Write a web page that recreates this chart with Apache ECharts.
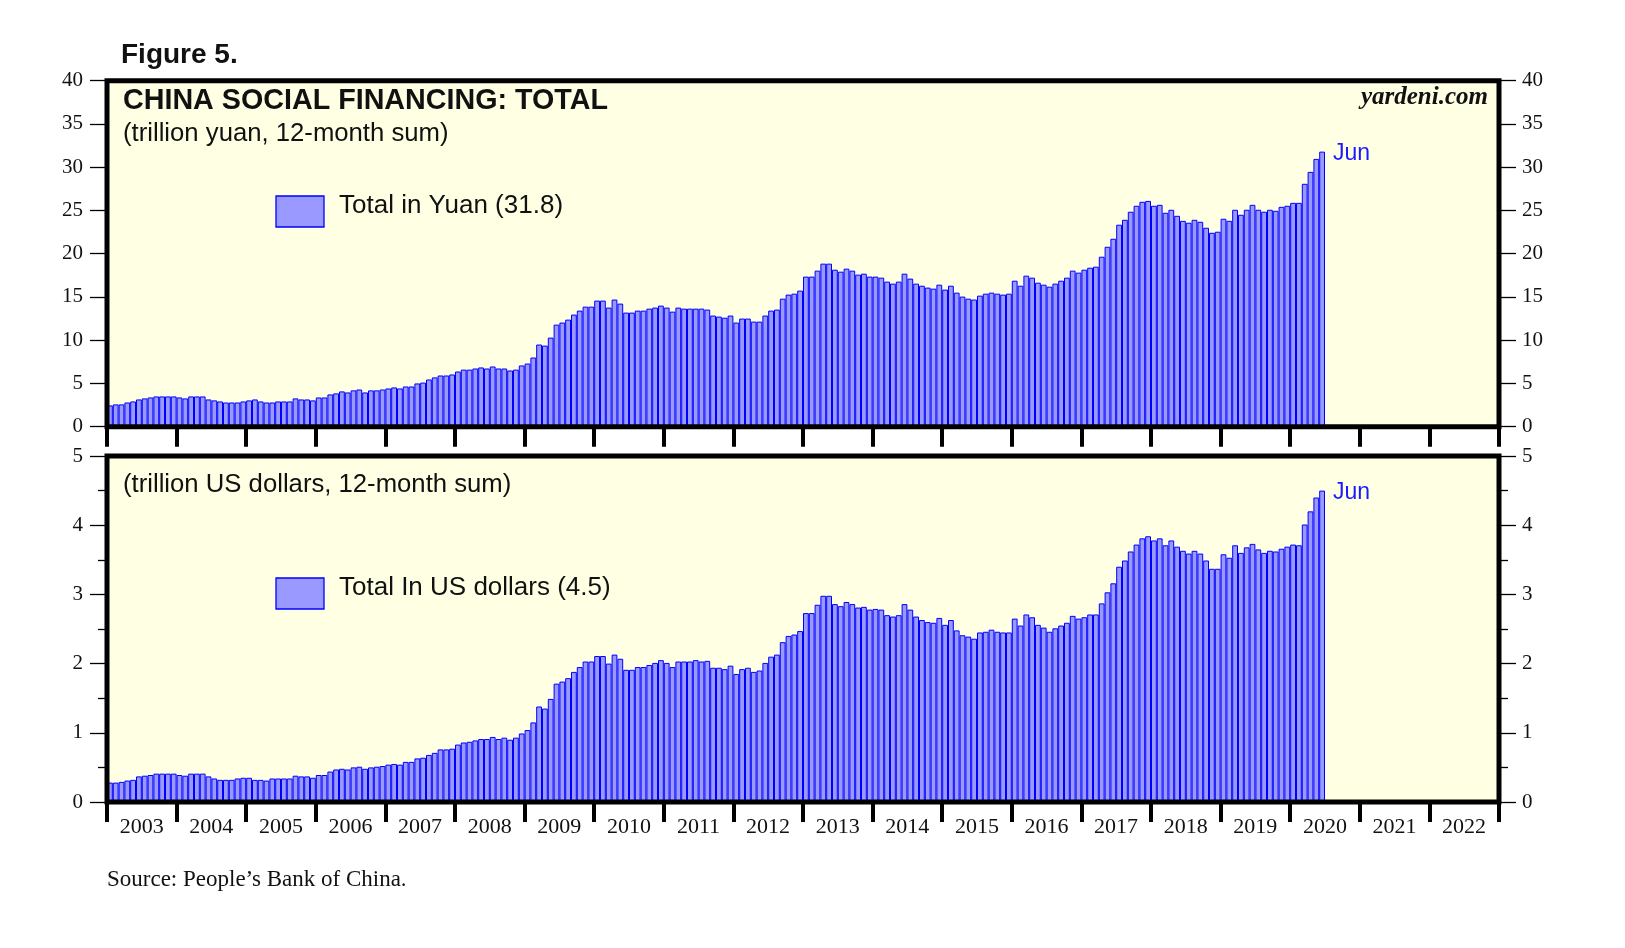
<!DOCTYPE html>
<html>
<head>
<meta charset="utf-8">
<script src="https://cdn.jsdelivr.net/npm/echarts@6/dist/echarts.min.js"></script>
<style>html,body{margin:0;padding:0;background:#fff}#c{width:1625px;height:948px}</style>
</head>
<body>
<div id="c"></div>
<script>
// ---- data ----
const years = [2003,2004,2005,2006,2007,2008,2009,2010,2011,2012,2013,2014,2015,2016,2017,2018,2019,2020,2021,2022];
const monthNames = ['Jan','Feb','Mar','Apr','May','Jun','Jul','Aug','Sep','Oct','Nov','Dec'];
const yuanTicks = [0,5,10,15,20,25,30,35,40];
const usdTicks = [0,1,2,3,4,5];

// trillion yuan, 12-month sum, monthly Jan 2003 - Jun 2020
const yuanValues = [
  2.46,2.58,2.58,2.8,2.92,3.15,3.27,3.38,3.5,3.5,3.5,3.5,
  3.38,3.27,3.5,3.5,3.5,3.15,3.04,2.92,2.8,2.8,2.8,2.92,
  3.04,3.15,2.92,2.8,2.8,2.92,2.92,2.92,3.27,3.15,3.15,3.04,
  3.38,3.38,3.73,3.85,4.08,3.96,4.2,4.3,3.96,4.2,4.2,4.3,
  4.42,4.54,4.42,4.65,4.65,5.0,5.1,5.46,5.7,5.92,5.92,6.04,
  6.38,6.6,6.6,6.73,6.85,6.73,6.96,6.73,6.73,6.5,6.6,7.08,
  7.3,8.0,9.5,9.38,10.3,11.8,12.04,12.38,12.96,13.42,13.88,13.88,
  14.58,14.58,13.77,14.7,14.23,13.19,13.19,13.42,13.42,13.65,13.77,14.0,
  13.77,13.3,13.77,13.65,13.65,13.65,13.65,13.54,12.85,12.73,12.6,12.85,
  12.04,12.5,12.5,12.15,12.15,12.85,13.42,13.54,14.8,15.27,15.38,15.73,
  17.35,17.35,18.04,18.85,18.85,18.15,17.92,18.27,18.04,17.58,17.69,17.35,
  17.35,17.23,16.77,16.54,16.77,17.69,17.12,16.54,16.3,16.08,15.96,16.42,
  15.85,16.3,15.5,15.04,14.8,14.7,15.15,15.38,15.5,15.38,15.27,15.38,
  16.88,16.3,17.46,17.23,16.65,16.42,16.19,16.54,16.88,17.23,18.04,17.81,
  18.15,18.38,18.5,19.65,20.8,21.73,23.35,23.92,24.85,25.54,26.0,26.1,
  25.54,25.65,24.73,25.08,24.38,23.8,23.58,23.92,23.69,23.0,22.42,22.54,
  24.04,23.8,25.08,24.5,25.08,25.65,25.08,24.85,25.08,24.96,25.42,25.54,
  25.88,25.88,28.08,29.46,30.96,31.8
];

// trillion US dollars, 12-month sum, monthly Jan 2003 - Jun 2020
const usdValues = [
  0.28,0.28,0.29,0.31,0.32,0.37,0.38,0.39,0.41,0.41,0.41,0.41,
  0.39,0.38,0.41,0.41,0.41,0.37,0.34,0.32,0.32,0.32,0.34,0.35,
  0.35,0.32,0.32,0.31,0.34,0.34,0.34,0.34,0.38,0.37,0.37,0.35,
  0.39,0.39,0.44,0.47,0.48,0.47,0.50,0.51,0.48,0.50,0.51,0.52,
  0.54,0.55,0.54,0.58,0.58,0.63,0.64,0.68,0.71,0.76,0.76,0.77,
  0.83,0.86,0.87,0.89,0.91,0.91,0.94,0.91,0.93,0.90,0.93,0.99,
  1.04,1.15,1.38,1.35,1.49,1.71,1.74,1.79,1.88,1.95,2.03,2.03,
  2.11,2.11,2.0,2.13,2.07,1.91,1.91,1.95,1.95,1.98,2.01,2.05,
  2.01,1.95,2.03,2.03,2.03,2.05,2.03,2.04,1.94,1.94,1.92,1.97,
  1.85,1.92,1.94,1.88,1.90,2.01,2.10,2.13,2.31,2.40,2.42,2.47,
  2.73,2.73,2.85,2.98,2.98,2.86,2.83,2.89,2.86,2.81,2.82,2.78,
  2.79,2.78,2.70,2.68,2.70,2.86,2.78,2.68,2.63,2.60,2.59,2.66,
  2.56,2.63,2.48,2.41,2.39,2.36,2.45,2.46,2.49,2.46,2.45,2.45,
  2.65,2.55,2.71,2.67,2.56,2.52,2.46,2.51,2.55,2.59,2.69,2.65,
  2.67,2.71,2.71,2.87,3.03,3.16,3.40,3.49,3.62,3.72,3.81,3.84,
  3.78,3.81,3.71,3.78,3.69,3.63,3.59,3.63,3.59,3.49,3.37,3.37,
  3.58,3.53,3.71,3.60,3.68,3.73,3.65,3.60,3.63,3.62,3.66,3.69,
  3.72,3.71,4.01,4.20,4.40,4.50
];

// ---- build ----
const categories = [];
years.forEach(y => { for (let m = 1; m <= 12; m++) categories.push(y + '-' + (m < 10 ? '0' + m : m)); });

const SANS = 'Liberation Sans, Arial, sans-serif';
const SERIF = 'Liberation Serif, Times New Roman, serif';
const GL = 107, GR = 126, GW = 1625 - GL - GR;
const T1 = 80.7, H = 346, T2 = 456;

const lastIdx = yuanValues.length - 1;
const lastMonth = monthNames[lastIdx % 12];
const yuanName = 'Total in Yuan (' + yuanValues[lastIdx].toFixed(1) + ')';
const usdName = 'Total In US dollars (' + usdValues[usdValues.length - 1].toFixed(1) + ')';

function withEndLabel(arr) {
  return arr.map((v, i) => i === arr.length - 1 ? {
    value: v,
    label: { show: true, formatter: lastMonth, position: ['100%', 0], offset: [8, 2],
      align: 'left', verticalAlign: 'middle', color: '#1a1aff', fontFamily: SANS, fontSize: 23 }
  } : v);
}

function xAxis(gi, showLabels) {
  return {
    type: 'category', gridIndex: gi, data: categories, boundaryGap: true, position: 'bottom',
    axisLine: { show: false },
    axisTick: { show: true, interval: (i) => i % 12 === 0, length: 20, lineStyle: { color: '#000', width: 4 } },
    axisLabel: { show: showLabels, interval: (i) => i % 12 === 6, formatter: v => v.slice(0, 4),
      margin: 14, fontFamily: SERIF, fontSize: 22, color: '#111', padding: [0, 6, 0, 0] },
    splitLine: { show: false }
  };
}
function yAxis(gi, pos, ticks, interval, minor) {
  return {
    type: 'value', gridIndex: gi, position: pos, min: ticks[0], max: ticks[ticks.length - 1], interval: interval,
    axisLine: { show: false }, splitLine: { show: false },
    axisTick: { show: true, length: 17, lineStyle: { color: '#000', width: 1.3 } },
    minorTick: { show: minor, splitNumber: 2, length: 9, lineStyle: { color: '#000', width: 1.3 } },
    minorSplitLine: { show: false },
    axisLabel: { margin: pos === 'left' ? 24 : 23, fontFamily: SERIF, fontSize: 21, color: '#111' }
  };
}

const barStyle = { color: '#9999ff', borderColor: '#0000ff', borderWidth: 1 };

function legendItems(name, boxTop, textY) {
  return [
    { type: 'rect', z: 50, shape: { x: 276, y: boxTop, width: 48, height: 31 },
      style: { fill: '#9999ff', stroke: '#0000ff', lineWidth: 1.3 } },
    { type: 'text', x: 339, y: textY, z: 50,
      style: { text: name, font: '26px ' + SANS, fill: '#111', textAlign: 'left', textVerticalAlign: 'middle' } }
  ];
}

function txt(x, y, text, font, opts) {
  return Object.assign({ type: 'text', x: x, y: y, z: 50,
    style: { text: text, font: font, fill: '#111', textAlign: 'left', textVerticalAlign: 'middle' } }, opts || {});
}

const option = {
  animation: false,
  backgroundColor: '#ffffff',
  grid: [
    { left: GL, width: GW, top: T1, height: H, show: true, backgroundColor: '#ffffe4', borderWidth: 0 },
    { left: GL, width: GW, top: T2, height: H, show: true, backgroundColor: '#ffffe4', borderWidth: 0 }
  ],
  xAxis: [xAxis(0, false), xAxis(1, true)],
  yAxis: [
    yAxis(0, 'left', yuanTicks, 5, false),
    yAxis(0, 'right', yuanTicks, 5, false),
    yAxis(1, 'left', usdTicks, 1, true),
    yAxis(1, 'right', usdTicks, 1, true)
  ],
  series: [
    { type: 'bar', name: yuanName, xAxisIndex: 0, yAxisIndex: 0, data: withEndLabel(yuanValues),
      barCategoryGap: '0%', itemStyle: barStyle, silent: true },
    { type: 'bar', name: usdName, xAxisIndex: 1, yAxisIndex: 2, data: withEndLabel(usdValues),
      barCategoryGap: '0%', itemStyle: barStyle, silent: true }
  ],
  graphic: [
    { type: 'rect', z: 100, shape: { x: GL, y: T1, width: GW, height: H }, style: { fill: 'transparent', stroke: '#000', lineWidth: 5 } },
    { type: 'rect', z: 100, shape: { x: GL, y: T2, width: GW, height: H }, style: { fill: 'transparent', stroke: '#000', lineWidth: 5 } },
    txt(121, 55, 'Figure 5.', 'bold 28px ' + SANS),
    txt(123, 101, 'CHINA SOCIAL FINANCING: TOTAL', 'bold 28.7px ' + SANS),
    txt(123, 134, '(trillion yuan, 12-month sum)', '25.7px ' + SANS),
    txt(123, 485, '(trillion US dollars, 12-month sum)', '25.7px ' + SANS),
    { type: 'text', x: 1488, y: 98, z: 50, style: { text: 'yardeni.com', font: 'italic bold 25px ' + SERIF, fill: '#111', textAlign: 'right', textVerticalAlign: 'middle' } },
    txt(107, 880, 'Source: People\u2019s Bank of China.', '23px ' + SERIF)
  ].concat(legendItems(yuanName, 196, 206), legendItems(usdName, 578, 588))
};

const chart = echarts.init(document.getElementById('c'), null, { renderer: 'canvas' });
chart.setOption(option);
</script>
</body>
</html>
